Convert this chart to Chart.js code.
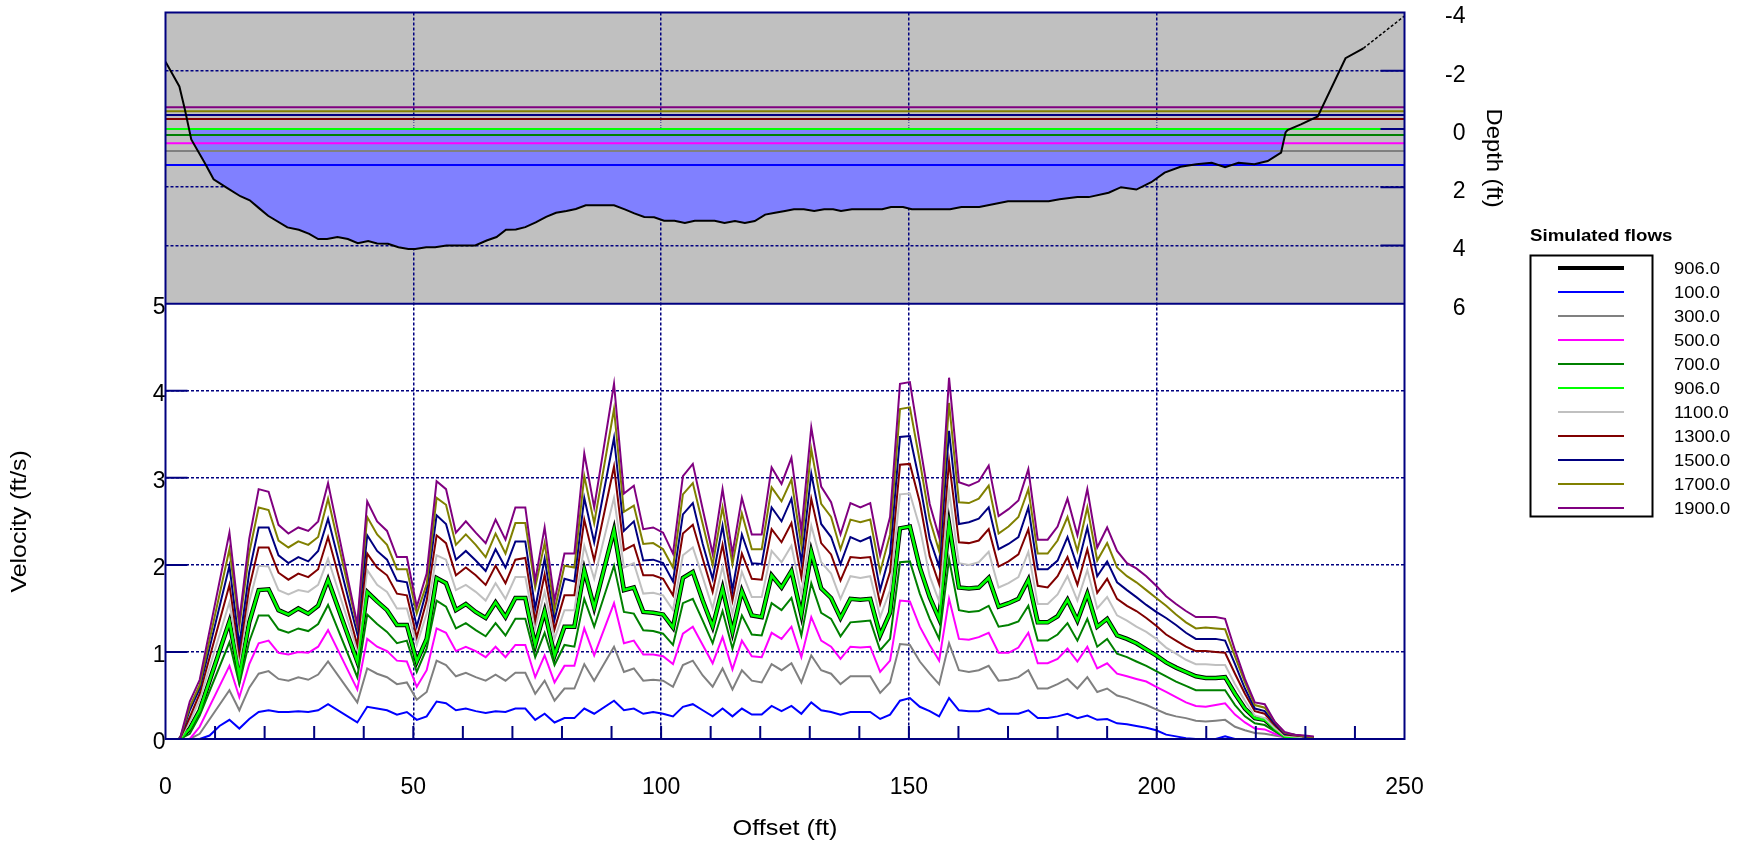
<!DOCTYPE html>
<html>
<head>
<meta charset="utf-8">
<script src="https://cdn.jsdelivr.net/npm/chart.js@4.4.1/dist/chart.umd.min.js"></script>
<style>
html, body { margin: 0; padding: 0; background: #fff; }
</style>
</head>
<body>
<canvas id="chartPerfil" width="1748" height="845"></canvas>
<script>
// flows shown in the legend (first one is the highlighted flow)
const flowLabels = ['906.0', '100.0', '300.0', '500.0', '700.0', '906.0', '1100.0', '1300.0', '1500.0', '1700.0', '1900.0'];
// water surface depth (ft) for each flow, same order
const waterDepth = [0.0, 1.24, 0.76, 0.49, 0.21, 0.0, -0.17, -0.34, -0.48, -0.61, -0.75];

// bed profile
const bedOffset = [0, 2.8, 3.9, 5.2, 7.9, 9.7, 12.4, 15.1, 17.0, 18.8,
  20.7, 24.6, 26.9, 29.0, 30.8, 32.6, 34.7, 36.8, 38.8, 40.9,
  42.7, 44.9, 47.0, 49.0, 50.4, 52.6, 54.4, 56.7, 62.5, 64.8,
  66.8, 68.7, 70.7, 72.6, 74.7, 76.8, 78.8, 80.9, 82.8, 84.8,
  90.5, 92.8, 94.6, 96.6, 98.6, 100.6, 102.7, 104.8, 106.8, 110.8,
  112.8, 114.9, 116.9, 118.9, 121.0, 123.0, 125.0, 126.8, 128.8, 130.9,
  132.9, 134.7, 136.3, 138.5, 144.6, 146.4, 148.8, 150.6, 158.3, 160.6,
  164.2, 170.0, 178.2, 180.4, 184.0, 186.3, 190.3, 192.8, 195.9, 198.9,
  201.6, 204.8, 208.0, 211.1, 213.8, 216.5, 219.7, 222.4, 225.1, 226.0,
  226.4, 229.1, 232.5, 238.1, 241.7];
const bedDepth = [-2.31, -1.46, -0.68, 0.36, 1.16, 1.73, 2.02, 2.31, 2.45, 2.71,
  2.98, 3.38, 3.46, 3.60, 3.78, 3.78, 3.71, 3.78, 3.92, 3.85,
  3.93, 3.94, 4.06, 4.12, 4.12, 4.06, 4.06, 4.00, 4.00, 3.83,
  3.71, 3.46, 3.45, 3.37, 3.21, 3.02, 2.88, 2.82, 2.75, 2.62,
  2.62, 2.77, 2.90, 3.02, 3.03, 3.15, 3.15, 3.23, 3.15, 3.15,
  3.23, 3.16, 3.23, 3.16, 2.94, 2.88, 2.82, 2.76, 2.76, 2.82,
  2.76, 2.76, 2.82, 2.76, 2.76, 2.68, 2.68, 2.76, 2.76, 2.68,
  2.68, 2.48, 2.48, 2.41, 2.34, 2.34, 2.19, 2.00, 2.08, 1.83,
  1.50, 1.30, 1.21, 1.16, 1.31, 1.16, 1.21, 1.10, 0.81, 0.12,
  0.04, -0.16, -0.43, -2.43, -2.77];
// estimated part of the bank (dashed)
const bankOffset = [241.7, 250];
const bankDepth = [-2.77, -3.88];

// velocity verticals
const offsets = [2.9, 4.9, 6.9, 8.9, 10.9, 12.9, 14.9, 16.9, 18.8, 20.8,
  22.8, 24.8, 26.8, 28.8, 30.8, 32.8, 34.8, 36.7, 38.7, 40.7,
  42.7, 44.7, 46.7, 48.7, 50.7, 52.7, 54.7, 56.6, 58.6, 60.6,
  62.6, 64.6, 66.6, 68.6, 70.6, 72.6, 74.6, 76.5, 78.5, 80.5,
  82.5, 84.5, 86.5, 88.5, 90.5, 92.5, 94.5, 96.4, 98.4, 100.4,
  102.4, 104.4, 106.4, 108.4, 110.4, 112.4, 114.4, 116.3, 118.3, 120.3,
  122.3, 124.3, 126.3, 128.3, 130.3, 132.3, 134.3, 136.2, 138.2, 140.2,
  142.2, 144.2, 146.2, 148.2, 150.2, 152.2, 154.2, 156.1, 158.1, 160.1,
  162.1, 164.1, 166.1, 168.1, 170.1, 172.1, 174.1, 176.0, 178.0, 180.0,
  182.0, 184.0, 186.0, 188.0, 190.0, 192.0, 194.0, 195.9, 197.9, 199.9,
  201.9, 203.9, 205.9, 207.9, 209.9, 211.9, 213.8, 215.8, 217.8, 219.8,
  221.8, 223.8, 225.8, 227.8, 229.8, 231.7];

const v100 = [0, 0, 0, 0.04, 0.15, 0.22, 0.12, 0.23, 0.31, 0.33,
  0.31, 0.31, 0.32, 0.31, 0.33, 0.40, null, null, 0.19, 0.37,
  0.35, 0.33, 0.28, 0.31, 0.22, 0.26, 0.43, 0.41, 0.33, 0.35,
  0.32, 0.30, 0.32, 0.31, 0.35, 0.35, 0.22, 0.29, 0.19, 0.24,
  0.24, 0.35, 0.29, null, 0.44, 0.33, 0.35, 0.29, 0.31, 0.29,
  0.26, 0.37, 0.40, 0.33, 0.26, 0.35, 0.26, 0.35, 0.28, 0.28,
  0.38, 0.32, 0.38, 0.29, 0.42, 0.33, 0.31, 0.28, 0.31, 0.31,
  0.31, 0.23, 0.28, 0.44, 0.47, 0.37, 0.32, 0.26, 0.47, 0.33,
  0.32, 0.32, 0.35, 0.29, 0.29, 0.29, 0.33, 0.24, 0.24, 0.26,
  0.29, 0.24, 0.27, 0.22, 0.23, 0.18, 0.17, 0.15, 0.13, 0.10,
  0.05, 0.03, 0.01, 0, 0, 0, 0.03, 0, 0, 0,
  0, 0, 0, 0, 0, 0];
const v300 = [0, 0, 0.06, null, null, 0.56, 0.33, 0.59, 0.75, 0.78,
  0.69, 0.67, 0.71, 0.68, 0.74, 0.89, null, null, 0.42, 0.81,
  0.75, 0.71, 0.63, 0.65, 0.45, 0.54, 0.90, 0.85, 0.72, 0.76,
  0.71, 0.67, 0.74, 0.67, 0.76, 0.76, 0.52, 0.67, 0.44, 0.58,
  0.58, 0.86, 0.67, null, 1.06, 0.77, 0.81, 0.67, 0.68, 0.67,
  0.60, 0.85, 0.90, 0.73, 0.60, 0.81, 0.57, 0.79, 0.67, 0.65,
  0.86, 0.79, 0.87, 0.65, 0.96, 0.79, 0.75, 0.63, 0.72, 0.72,
  0.72, 0.53, 0.65, 1.09, 1.08, 0.89, 0.75, 0.63, 1.10, 0.79,
  0.77, 0.79, 0.84, 0.67, 0.68, 0.71, 0.79, 0.58, 0.58, 0.63,
  0.69, 0.58, 0.71, 0.54, 0.58, 0.50, 0.47, 0.43, 0.39, 0.34,
  0.29, 0.26, 0.24, 0.21, 0.20, 0.21, 0.22, 0.14, 0.10, 0.07,
  0.06, 0.04, 0.02, 0.01, 0.01, 0];
const v500 = [0, 0, 0.14, null, null, 0.84, 0.48, 0.86, 1.10, 1.13,
  0.99, 0.97, 1.00, 0.99, 1.06, 1.25, null, null, 0.57, 1.15,
  1.06, 1.01, 0.90, 0.89, 0.60, 0.79, 1.27, 1.22, 1.01, 1.06,
  1.01, 0.94, 1.06, 0.94, 1.08, 1.08, 0.71, 0.96, 0.65, 0.84,
  0.84, 1.27, 0.96, null, 1.56, 1.10, 1.13, 0.97, 0.97, 0.95,
  0.86, 1.21, 1.29, 1.08, 0.87, 1.17, 0.80, 1.13, 0.95, 0.94,
  1.22, 1.15, 1.29, 0.94, 1.40, 1.13, 1.06, 0.92, 1.06, 1.05,
  1.06, 0.77, 0.90, 1.59, 1.58, 1.29, 1.08, 0.90, 1.61, 1.15,
  1.14, 1.17, 1.22, 0.99, 0.99, 1.05, 1.22, 0.87, 0.87, 0.92,
  1.04, 0.89, 1.06, 0.81, 0.87, 0.75, 0.72, 0.69, 0.66, 0.60,
  0.54, 0.48, 0.42, 0.38, 0.37, 0.39, 0.41, 0.28, 0.19, 0.12,
  0.11, 0.06, 0.02, 0.01, 0.01, 0];
const v700 = [0, 0.06, 0.27, null, null, 1.11, 0.63, 1.12, 1.42, 1.42,
  1.26, 1.22, 1.27, 1.24, 1.32, 1.54, null, null, 0.71, 1.43,
  1.32, 1.23, 1.10, 1.13, 0.77, 1.04, 1.59, 1.52, 1.27, 1.33,
  1.25, 1.18, 1.33, 1.19, 1.38, 1.38, 0.94, 1.22, 0.85, 1.08,
  1.06, 1.61, 1.29, null, 1.99, 1.46, 1.44, 1.25, 1.24, 1.21,
  1.08, 1.56, 1.61, 1.36, 1.10, 1.47, 1.04, 1.42, 1.20, 1.19,
  1.56, 1.48, 1.62, 1.19, 1.79, 1.45, 1.38, 1.18, 1.34, 1.35,
  1.36, 1.02, 1.15, 2.03, 2.04, 1.67, 1.38, 1.15, 2.07, 1.48,
  1.46, 1.47, 1.53, 1.29, 1.31, 1.35, 1.53, 1.13, 1.13, 1.20,
  1.33, 1.13, 1.38, 1.06, 1.15, 0.98, 0.94, 0.89, 0.84, 0.78,
  0.72, 0.66, 0.61, 0.56, 0.56, 0.56, 0.56, 0.39, 0.26, 0.18,
  0.16, 0.09, 0.02, 0.01, 0.01, 0];
const v906 = [0, 0.12, 0.33, null, null, 1.35, 0.73, 1.34, 1.71, 1.72,
  1.48, 1.43, 1.50, 1.44, 1.53, 1.83, null, null, 0.89, 1.69,
  1.58, 1.48, 1.31, 1.31, 0.89, 1.15, 1.85, 1.79, 1.48, 1.55,
  1.46, 1.39, 1.57, 1.40, 1.62, 1.62, 1.08, 1.47, 0.96, 1.29,
  1.29, 1.94, 1.51, null, 2.40, 1.71, 1.74, 1.46, 1.45, 1.43,
  1.28, 1.85, 1.92, 1.59, 1.29, 1.73, 1.23, 1.70, 1.42, 1.40,
  1.88, 1.74, 1.93, 1.43, 2.15, 1.73, 1.62, 1.39, 1.61, 1.60,
  1.61, 1.19, 1.45, 2.42, 2.44, 1.97, 1.63, 1.38, 2.47, 1.74,
  1.73, 1.74, 1.85, 1.52, 1.56, 1.61, 1.83, 1.34, 1.34, 1.41,
  1.60, 1.36, 1.67, 1.29, 1.38, 1.19, 1.15, 1.10, 1.03, 0.96,
  0.88, 0.82, 0.77, 0.72, 0.70, 0.70, 0.71, 0.52, 0.35, 0.24,
  0.22, 0.12, 0.03, 0.02, 0.01, 0];
const v1100 = [0, 0.20, 0.45, null, null, 1.57, 0.90, 1.58, 1.99, 1.98,
  1.71, 1.66, 1.71, 1.69, 1.77, 2.07, null, null, 1.02, 1.94,
  1.77, 1.69, 1.50, 1.50, 1.08, 1.44, 2.11, 2.06, 1.71, 1.77,
  1.69, 1.59, 1.79, 1.61, 1.86, 1.86, 1.27, 1.69, 1.15, 1.48,
  1.48, 2.22, 1.84, null, 2.77, 1.97, 2.02, 1.67, 1.68, 1.65,
  1.48, 2.11, 2.20, 1.86, 1.50, 1.98, 1.44, 1.92, 1.63, 1.63,
  2.16, 2.03, 2.22, 1.66, 2.45, 2.03, 1.90, 1.61, 1.87, 1.85,
  1.87, 1.40, 1.71, 2.81, 2.82, 2.43, 1.87, 1.58, 2.85, 2.02,
  2.00, 2.03, 2.15, 1.74, 1.79, 1.86, 2.15, 1.55, 1.55, 1.66,
  1.87, 1.59, 1.94, 1.50, 1.63, 1.42, 1.36, 1.29, 1.23, 1.15,
  1.05, 0.98, 0.91, 0.86, 0.86, 0.85, 0.85, 0.63, 0.44, 0.27,
  0.24, 0.13, 0.04, 0.03, 0.02, 0.01];
const v1300 = [0, 0.25, 0.52, null, null, 1.77, 0.98, 1.74, 2.20, 2.20,
  1.91, 1.83, 1.90, 1.86, 1.95, 2.32, null, null, 1.08, 2.13,
  1.97, 1.88, 1.67, 1.65, 1.17, 1.59, 2.34, 2.25, 1.88, 1.97,
  1.88, 1.77, 1.99, 1.79, 2.06, 2.08, 1.36, 1.89, 1.26, 1.65,
  1.65, 2.52, 2.05, null, 3.13, 2.17, 2.23, 1.88, 1.88, 1.84,
  1.65, 2.36, 2.46, 2.07, 1.69, 2.23, 1.59, 2.13, 1.84, 1.83,
  2.41, 2.26, 2.48, 1.86, 2.76, 2.25, 2.12, 1.82, 2.09, 2.08,
  2.09, 1.55, 1.92, 3.15, 3.16, 2.72, 2.10, 1.78, 3.19, 2.26,
  2.25, 2.28, 2.41, 1.98, 2.04, 2.12, 2.41, 1.76, 1.74, 1.87,
  2.09, 1.77, 2.18, 1.68, 1.84, 1.61, 1.53, 1.47, 1.39, 1.30,
  1.20, 1.13, 1.06, 1.01, 1.01, 1.00, 0.99, 0.75, 0.52, 0.32,
  0.29, 0.16, 0.05, 0.04, 0.03, 0.02];
const v1500 = [0, 0.33, 0.58, null, null, 1.99, 1.08, 1.92, 2.43, 2.43,
  2.11, 2.02, 2.09, 2.04, 2.16, 2.53, null, null, 1.21, 2.34,
  2.16, 2.06, 1.82, 1.80, 1.29, 1.71, 2.57, 2.47, 2.06, 2.16,
  2.05, 1.93, 2.18, 1.97, 2.27, 2.27, 1.50, 2.07, 1.37, 1.84,
  1.81, 2.77, 2.26, null, 3.46, 2.39, 2.50, 2.05, 2.06, 2.02,
  1.81, 2.58, 2.71, 2.24, 1.84, 2.45, 1.71, 2.35, 2.02, 2.01,
  2.66, 2.50, 2.76, 2.03, 3.05, 2.47, 2.32, 2.01, 2.32, 2.27,
  2.32, 1.71, 2.13, 3.47, 3.48, 2.94, 2.30, 1.98, 3.54, 2.47,
  2.49, 2.53, 2.66, 2.18, 2.24, 2.32, 2.66, 1.95, 1.95, 2.05,
  2.32, 1.98, 2.43, 1.87, 2.04, 1.80, 1.71, 1.63, 1.54, 1.46,
  1.39, 1.31, 1.22, 1.15, 1.15, 1.15, 1.13, 0.86, 0.58, 0.35,
  0.32, 0.18, 0.06, 0.05, 0.03, 0.02];
const v1700 = [0, 0.37, 0.62, null, null, 2.18, 1.29, 2.14, 2.66, 2.63,
  2.28, 2.20, 2.27, 2.23, 2.32, 2.76, null, null, 1.29, 2.55,
  2.35, 2.23, 1.95, 1.95, 1.44, 1.78, 2.77, 2.69, 2.23, 2.35,
  2.23, 2.09, 2.36, 2.13, 2.48, 2.48, 1.74, 2.25, 1.48, 1.99,
  1.97, 3.02, 2.48, null, 3.79, 2.61, 2.68, 2.24, 2.25, 2.18,
  1.97, 2.81, 2.94, 2.47, 2.00, 2.66, 2.01, 2.59, 2.18, 2.18,
  2.89, 2.73, 2.98, 2.22, 3.33, 2.70, 2.55, 2.18, 2.52, 2.49,
  2.52, 1.92, 2.35, 3.79, 3.81, 3.19, 2.52, 2.16, 3.86, 2.72,
  2.71, 2.76, 2.91, 2.36, 2.44, 2.55, 2.87, 2.13, 2.13, 2.28,
  2.55, 2.16, 2.66, 2.05, 2.25, 1.97, 1.87, 1.80, 1.71, 1.62,
  1.53, 1.43, 1.34, 1.27, 1.28, 1.27, 1.26, 0.95, 0.65, 0.39,
  0.36, 0.20, 0.07, 0.05, 0.03, 0.02];
const v1900 = [0, 0.43, 0.68, null, null, 2.37, 1.36, 2.30, 2.87, 2.84,
  2.46, 2.36, 2.43, 2.39, 2.50, 2.94, null, null, 1.32, 2.73,
  2.50, 2.39, 2.09, 2.09, 1.52, 1.90, 2.96, 2.87, 2.37, 2.50,
  2.37, 2.25, 2.52, 2.29, 2.66, 2.66, 1.82, 2.43, 1.59, 2.13,
  2.13, 3.28, 2.66, null, 4.08, 2.82, 2.91, 2.41, 2.43, 2.37,
  2.13, 3.02, 3.16, 2.64, 2.13, 2.87, 2.13, 2.77, 2.35, 2.35,
  3.12, 2.93, 3.23, 2.39, 3.58, 2.90, 2.72, 2.35, 2.71, 2.66,
  2.71, 2.11, 2.55, 4.08, 4.10, 3.39, 2.70, 2.32, 4.15, 2.95,
  2.91, 2.96, 3.14, 2.56, 2.64, 2.74, 3.10, 2.29, 2.29, 2.44,
  2.76, 2.34, 2.87, 2.20, 2.43, 2.16, 2.02, 1.96, 1.87, 1.76,
  1.64, 1.55, 1.47, 1.40, 1.40, 1.40, 1.38, 1.02, 0.69, 0.42,
  0.40, 0.20, 0.08, 0.05, 0.04, 0.03];

// series in legend order
const velocitySeries = [v906, v100, v300, v500, v700, v906, v1100, v1300, v1500, v1700, v1900];
const flowColors = ['#000000', '#0000ff', '#808080', '#ff00ff', '#008000', '#00ff00',
  '#c0c0c0', '#800000', '#000080', '#808000', '#800080'];

Chart.defaults.font.family = "'Liberation Sans', Arial, sans-serif";
Chart.defaults.color = '#000';

const navy = '#000080';
const none = 'rgba(0,0,0,0)';
const FONT = "'Liberation Sans', Arial, sans-serif";

const toPoints = (xs, ys) => xs.map((x, i) => ({ x: x, y: ys[i] }));
// tick labels sit a few pixels under their grid line in the original
const lowerLabel = v => ['', String(v)];

const datasets = [];
// water surfaces
flowLabels.forEach((lab, i) => {
  datasets.push({
    label: 'WS ' + lab,
    data: [{ x: 0, y: waterDepth[i] }, { x: 250, y: waterDepth[i] }],
    yAxisID: 'yDep',
    borderColor: flowColors[i],
    borderWidth: 2,
    pointRadius: 0,
    order: 50 - i
  });
});
const wsTarget = 5; // lime 906 surface bounds the water fill
datasets.push({
  label: 'Bed',
  data: toPoints(bedOffset, bedDepth),
  yAxisID: 'yDep',
  borderColor: '#000',
  borderWidth: 2,
  pointRadius: 0,
  fill: { target: wsTarget, above: none, below: '#8080ff' },
  order: 30
});
datasets.push({
  label: 'Bank',
  data: toPoints(bankOffset, bankDepth),
  yAxisID: 'yDep',
  borderColor: '#000',
  borderWidth: 1.5,
  borderDash: [3, 2],
  pointRadius: 0,
  order: 30
});
velocitySeries.forEach((vals, i) => {
  datasets.push({
    label: flowLabels[i],
    data: toPoints(offsets, vals),
    yAxisID: 'yVel',
    borderColor: flowColors[i],
    borderWidth: i === 0 ? 4.5 : (i === 5 ? 2.6 : 2),
    pointRadius: 0,
    spanGaps: true,
    order: 20 - i
  });
});

function stretchText(ctx, text, x, y, rot, sx) {
  ctx.save();
  ctx.translate(x, y);
  if (rot) ctx.rotate(rot);
  ctx.scale(sx, 1);
  ctx.fillText(text, 0, 0);
  ctx.restore();
}

const decor = {
  id: 'decor',
  beforeDraw(chart) {
    const { ctx, chartArea: a, scales } = chart;
    const yMid = scales.yDep.getPixelForValue(6);
    ctx.save();
    ctx.fillStyle = '#c0c0c0';
    ctx.fillRect(a.left, a.top, a.right - a.left, yMid - a.top);
    ctx.restore();
  },
  afterDatasetsDraw(chart) {
    const { ctx, chartArea: a, scales } = chart;
    const x = scales.x, yv = scales.yVel, yd = scales.yDep;
    const yMid = yd.getPixelForValue(6);
    ctx.save();
    ctx.strokeStyle = navy;
    ctx.lineWidth = 2;
    // minor ticks along the bottom
    ctx.beginPath();
    for (let t = 10; t < 250; t += 10) {
      const px = x.getPixelForValue(t);
      ctx.moveTo(px, a.bottom);
      ctx.lineTo(px, a.bottom - 13);
    }
    // inside ticks
    yv.ticks.forEach(t => {
      if (t.value > 0 && t.value < 5) {
        const py = yv.getPixelForValue(t.value);
        ctx.moveTo(a.left, py);
        ctx.lineTo(a.left + 22, py);
      }
    });
    yd.ticks.forEach(t => {
      if (t.value > -4 && t.value < 6) {
        const py = yd.getPixelForValue(t.value);
        ctx.moveTo(a.right - 24, py);
        ctx.lineTo(a.right, py);
      }
    });
    ctx.stroke();
    // frame and panel divider
    ctx.strokeRect(a.left, a.top, a.right - a.left, a.bottom - a.top);
    ctx.beginPath();
    ctx.moveTo(a.left, yMid);
    ctx.lineTo(a.right, yMid);
    ctx.stroke();
    ctx.restore();
  },
  afterDraw(chart) {
    const { ctx, chartArea: a, scales } = chart;
    const yv = scales.yVel, yd = scales.yDep;
    ctx.save();
    ctx.fillStyle = '#000';
    ctx.font = '22px ' + FONT;
    ctx.textAlign = 'center';
    ctx.textBaseline = 'middle';
    stretchText(ctx, 'Offset (ft)', (a.left + a.right) / 2, 829, 0, 1.15);
    stretchText(ctx, 'Velocity (ft/s)', 20, (yv.getPixelForValue(0) + yv.getPixelForValue(5)) / 2, -Math.PI / 2, 1.13);
    stretchText(ctx, 'Depth (ft)', 1493, (yd.getPixelForValue(-4) + yd.getPixelForValue(6)) / 2, Math.PI / 2, 1.08);

    // legend
    ctx.textAlign = 'left';
    ctx.font = 'bold 17px ' + FONT;
    stretchText(ctx, 'Simulated flows', 1530, 236, 0, 1.1);
    ctx.strokeStyle = '#000';
    ctx.lineWidth = 2;
    ctx.strokeRect(1530.5, 255.5, 122, 261);
    ctx.font = '17px ' + FONT;
    flowLabels.forEach((lab, i) => {
      const py = 268 + i * 24;
      ctx.beginPath();
      ctx.strokeStyle = flowColors[i];
      ctx.lineWidth = i === 0 ? 4 : 2;
      ctx.moveTo(1558, py);
      ctx.lineTo(1624, py);
      ctx.stroke();
      stretchText(ctx, lab, 1674, py + 1, 0, 1.08);
    });
    ctx.restore();
  }
};

const noPad = s => { s.paddingTop = 0; s.paddingBottom = 0; };

const ctxPerfil = document.getElementById('chartPerfil').getContext('2d');
const chartPerfil = new Chart(ctxPerfil, {
  type: 'line',
  data: { datasets: datasets },
  options: {
    responsive: false,
    animation: false,
    devicePixelRatio: 1,
    layout: { padding: { left: 105.5, right: 282.5, top: 12.5, bottom: 0 } },
    plugins: {
      legend: { display: false },
      tooltip: { enabled: false },
      filler: { propagate: false, drawTime: 'beforeDatasetsDraw' }
    },
    elements: { line: { tension: 0 } },
    scales: {
      x: {
        type: 'linear',
        min: 0,
        max: 250,
        ticks: { stepSize: 50, padding: 35, font: { size: 23 } },
        grid: {
          color: c => (c.tick && c.tick.value > 0 && c.tick.value < 250) ? navy : none,
          lineWidth: 1.5,
          drawTicks: false
        },
        border: { display: false, dash: [3, 2] },
        afterFit: s => { s.height = 106; }
      },
      yVel: {
        type: 'linear',
        position: 'left',
        min: 0,
        max: 8.345,
        ticks: { stepSize: 1, padding: 0, font: { size: 23, lineHeight: 0.36 }, callback: lowerLabel },
        afterBuildTicks: s => { s.ticks = s.ticks.filter(t => t.value <= 5); },
        grid: {
          color: c => (c.tick && c.tick.value > 0 && c.tick.value < 5) ? navy : none,
          lineWidth: 1.5,
          drawTicks: false
        },
        border: { display: false, dash: [3, 2] },
        afterFit: s => { s.width = 60; noPad(s); }
      },
      yDep: {
        type: 'linear',
        position: 'right',
        reverse: true,
        min: -4,
        max: 20.95,
        ticks: { stepSize: 2, padding: 3, crossAlign: 'far', font: { size: 23, lineHeight: 0.4 }, callback: lowerLabel },
        afterBuildTicks: s => { s.ticks = s.ticks.filter(t => t.value <= 6); },
        grid: {
          color: c => (c.tick && c.tick.value > -4 && c.tick.value < 6) ? navy : none,
          lineWidth: 1.5,
          drawTicks: false
        },
        border: { display: false, dash: [3, 2] },
        afterFit: s => { s.width = 61; noPad(s); }
      }
    }
  },
  plugins: [decor]
});
</script>
</body>
</html>
